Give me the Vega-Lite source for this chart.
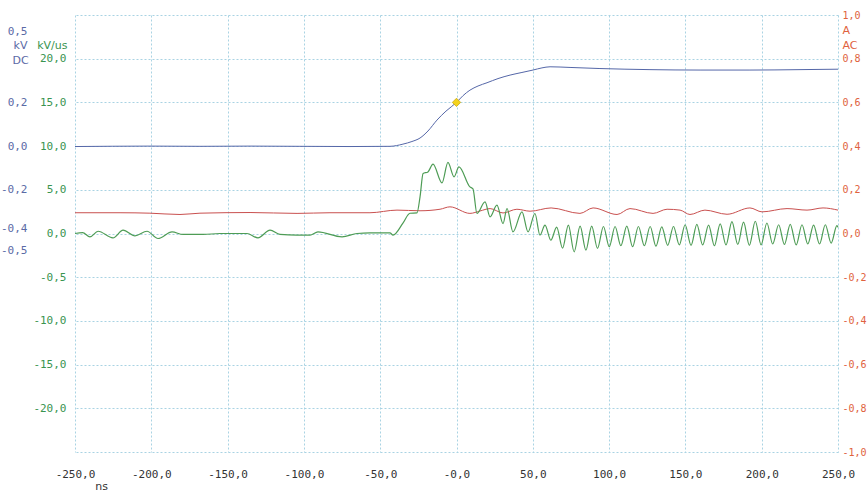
{
  "$schema": "https://vega.github.io/schema/vega-lite/v6.json",
  "width": 763,
  "height": 437,
  "autosize": "none",
  "padding": {"left": 75, "top": 15, "right": 29, "bottom": 43},
  "background": "white",
  "config": {
    "view": {"stroke": null},
    "axis": {
      "labelFont": "DejaVu Sans Mono",
      "labelFontSize": 11,
      "titleFont": "DejaVu Sans",
      "titleFontSize": 11,
      "titleFontWeight": "normal",
      "domain": false,
      "ticks": false,
      "grid": false,
      "labelFlush": false,
      "labelOverlap": false,
      "labelBound": false,
      "gridColor": "#a9d3e3",
      "gridDash": [2, 2],
      "gridWidth": 1
    }
  },
  "datasets": {
    "blue": [
      {"t": -250, "v": -0.002}, {"t": -200.9, "v": 0}, {"t": -168.1, "v": -0.001}, {"t": -135.3, "v": 0},
      {"t": -102.6, "v": -0.001}, {"t": -69.8, "v": -0.002}, {"t": -43.6, "v": -0.001}, {"t": -35.1, "v": 0.009},
      {"t": -29.2, "v": 0.021}, {"t": -23.9, "v": 0.037}, {"t": -18.7, "v": 0.069}, {"t": -12.8, "v": 0.119},
      {"t": -6.9, "v": 0.16}, {"t": 0, "v": 0.2}, {"t": 4.3, "v": 0.231}, {"t": 8.8, "v": 0.256},
      {"t": 14.1, "v": 0.275}, {"t": 20, "v": 0.29}, {"t": 27.2, "v": 0.309}, {"t": 35.1, "v": 0.325},
      {"t": 42.9, "v": 0.337}, {"t": 50.1, "v": 0.348}, {"t": 56, "v": 0.358}, {"t": 61.3, "v": 0.363},
      {"t": 74.4, "v": 0.36}, {"t": 94, "v": 0.355}, {"t": 126.8, "v": 0.35}, {"t": 159.6, "v": 0.348},
      {"t": 192.3, "v": 0.348}, {"t": 225.1, "v": 0.35}, {"t": 250, "v": 0.352}
    ],
    "marker": [{"t": 0, "v": 0.2}],
    "green": [
      {"t": -250, "v": 0.0}, {"t": -245, "v": 0.1}, {"t": -240.2, "v": -0.39}, {"t": -234.9, "v": 0.26},
      {"t": -225.1, "v": -0.5}, {"t": -218.5, "v": 0.38}, {"t": -210.7, "v": -0.27}, {"t": -202.8, "v": 0.26},
      {"t": -195.6, "v": -0.57}, {"t": -186.4, "v": 0.18}, {"t": -179.2, "v": -0.11}, {"t": -166.1, "v": -0.11},
      {"t": -155, "v": 0.0}, {"t": -137.3, "v": 0.0}, {"t": -130.1, "v": -0.5}, {"t": -122.2, "v": 0.38},
      {"t": -115.7, "v": -0.11}, {"t": -104.5, "v": -0.19}, {"t": -96, "v": -0.19}, {"t": -90.8, "v": 0.18},
      {"t": -75, "v": -0.39}, {"t": -65.2, "v": 0.0}, {"t": -56.7, "v": 0.07}, {"t": -43.6, "v": 0.07},
      {"t": -41.6, "v": -0.19}, {"t": -35.1, "v": 1.18}, {"t": -30.5, "v": 2.32}, {"t": -25.9, "v": 2.36},
      {"t": -23.9, "v": 4.19}, {"t": -21.9, "v": 6.86}, {"t": -18.7, "v": 7.05}, {"t": -15.4, "v": 7.93},
      {"t": -9.5, "v": 5.79}, {"t": -5.6, "v": 8.13}, {"t": -1.6, "v": 6.48}, {"t": 1.6, "v": 7.62},
      {"t": 8.8, "v": 5.33}, {"t": 10.8, "v": 5.1}, {"t": 13.4, "v": 2.29}, {"t": 18.7, "v": 3.62},
      {"t": 22.0, "v": 1.9}, {"t": 26.5, "v": 3.24}, {"t": 30.5, "v": 1.14}, {"t": 33.1, "v": 2.86},
      {"t": 37.0, "v": 0.18}, {"t": 42.9, "v": 2.47}, {"t": 46.9, "v": 0.18}, {"t": 51.4, "v": 2.29},
      {"t": 54.7, "v": -0.19},
      {"t": 58.0, "v": 0.95}, {"t": 61.8, "v": -0.77}, {"t": 65.65, "v": 0.72}, {"t": 69.5, "v": -1.68},
      {"t": 73.3, "v": 0.95}, {"t": 77.1, "v": -2.1}, {"t": 81.0, "v": 0.84}, {"t": 84.8, "v": -1.9},
      {"t": 88.6, "v": 0.84}, {"t": 92.4, "v": -1.7}, {"t": 96.3, "v": 0.8}, {"t": 100.1, "v": -1.5},
      {"t": 103.9, "v": 0.8}, {"t": 107.7, "v": -1.4}, {"t": 111.6, "v": 0.85}, {"t": 115.4, "v": -1.5},
      {"t": 119.2, "v": 0.8}, {"t": 123.1, "v": -1.4}, {"t": 126.9, "v": 0.8}, {"t": 130.7, "v": -1.45},
      {"t": 134.5, "v": 0.75}, {"t": 138.4, "v": -1.35}, {"t": 142.2, "v": 0.8}, {"t": 146.0, "v": -1.3},
      {"t": 149.8, "v": 1.0}, {"t": 153.7, "v": -1.35}, {"t": 157.5, "v": 1.05}, {"t": 161.3, "v": -1.3},
      {"t": 165.2, "v": 0.95}, {"t": 169.0, "v": -1.4}, {"t": 172.8, "v": 1.1}, {"t": 176.6, "v": -1.3},
      {"t": 180.5, "v": 1.35}, {"t": 184.3, "v": -1.25}, {"t": 188.1, "v": 1.3}, {"t": 191.9, "v": -1.35},
      {"t": 195.8, "v": 1.4}, {"t": 199.6, "v": -1.3}, {"t": 203.4, "v": 1.2}, {"t": 207.2, "v": -1.2},
      {"t": 211.1, "v": 1.0}, {"t": 214.9, "v": -1.25}, {"t": 218.7, "v": 1.05}, {"t": 222.6, "v": -1.3},
      {"t": 226.4, "v": 1.0}, {"t": 230.2, "v": -1.2}, {"t": 234.0, "v": 0.95}, {"t": 237.9, "v": -1.2},
      {"t": 241.7, "v": 1.0}, {"t": 245.5, "v": -1.1}, {"t": 249.3, "v": 0.9}, {"t": 250, "v": 0.7}
    ],
    "red": [
      {"t": -250, "v": 0.095}, {"t": -220.5, "v": 0.095}, {"t": -200.9, "v": 0.093}, {"t": -181.2, "v": 0.087},
      {"t": -168.1, "v": 0.093}, {"t": -135.3, "v": 0.096}, {"t": -104.5, "v": 0.092}, {"t": -82.9, "v": 0.095},
      {"t": -56.7, "v": 0.095}, {"t": -39, "v": 0.107}, {"t": -23.9, "v": 0.104}, {"t": -10.8, "v": 0.111},
      {"t": -4.3, "v": 0.122}, {"t": 8.8, "v": 0.092}, {"t": 15.4, "v": 0.103}, {"t": 22, "v": 0.114},
      {"t": 30.5, "v": 0.094}, {"t": 39.6, "v": 0.111}, {"t": 48.2, "v": 0.102}, {"t": 62, "v": 0.117},
      {"t": 80.9, "v": 0.092}, {"t": 89.5, "v": 0.117}, {"t": 105.2, "v": 0.087}, {"t": 113.7, "v": 0.114},
      {"t": 128.8, "v": 0.092}, {"t": 138, "v": 0.111}, {"t": 146.5, "v": 0.107}, {"t": 153, "v": 0.087},
      {"t": 162.8, "v": 0.107}, {"t": 177.3, "v": 0.088}, {"t": 192.3, "v": 0.117}, {"t": 200.2, "v": 0.099},
      {"t": 216.6, "v": 0.114}, {"t": 229.7, "v": 0.107}, {"t": 240.2, "v": 0.117}, {"t": 250, "v": 0.107}
    ]
  },
  "encoding": {
    "x": {
      "field": "t",
      "type": "quantitative",
      "scale": {"domain": [-250, 250], "nice": false, "zero": false},
      "axis": {
        "values": [-250, -200, -150, -100, -50, 0, 50, 100, 150, 200, 250],
        "grid": true,
        "labelColor": "#333333",
        "labelPadding": 16,
        "labelExpr": "datum.value == 0 ? '-0,0' : (datum.value < 0 ? '-' : '') + replace(format(abs(datum.value), '.1f'), '.', ',')",
        "title": "ns",
        "titleColor": "#333333",
        "titleAlign": "center",
        "titleAnchor": null,
        "titleBaseline": "alphabetic",
        "titleX": 26,
        "titleY": 37
      }
    }
  },
  "layer": [
    {
      "data": {"name": "red"},
      "mark": {"type": "line", "color": "#c9504f", "strokeWidth": 1, "interpolate": "monotone"},
      "encoding": {
        "y": {
          "field": "v", "type": "quantitative",
          "scale": {"domain": [-1, 1], "nice": false, "zero": false},
          "axis": {
            "orient": "right",
            "values": [-1, -0.8, -0.6, -0.4, -0.2, 0, 0.2, 0.4, 0.6, 0.8, 1],
            "grid": true,
            "labelColor": "#e0623e",
            "labelFontSize": 10,
            "labelPadding": 4,
            "labelExpr": "(datum.value < -0.0001 ? '-' : '') + replace(format(abs(datum.value), '.1f'), '.', ',')",
            "title": ["A", "AC"],
            "titleColor": "#e0623e",
            "titleAngle": 0,
            "titleAlign": "left",
            "titleAnchor": null,
            "titleBaseline": "alphabetic",
            "titleLineHeight": 15,
            "titleX": 4,
            "titleY": 18
          }
        }
      }
    },
    {
      "data": {"name": "green"},
      "mark": {"type": "line", "color": "#4e9c55", "strokeWidth": 1.2, "interpolate": "monotone"},
      "encoding": {
        "y": {
          "field": "v", "type": "quantitative",
          "scale": {"domain": [-25, 25], "nice": false, "zero": false},
          "axis": {
            "orient": "left",
            "values": [-20, -15, -10, -5, 0, 5, 10, 15, 20],
            "labelColor": "#3a9450",
            "labelPadding": 9,
            "labelExpr": "datum.value == -5 ? '-0,5' : (datum.value < 0 ? '-' : '') + replace(format(abs(datum.value), '.1f'), '.', ',')",
            "title": "kV/us",
            "titleColor": "#3a9450",
            "titleAngle": 0,
            "titleAlign": "right",
            "titleAnchor": null,
            "titleBaseline": "alphabetic",
            "titleX": -8,
            "titleY": 33
          }
        }
      }
    },
    {
      "data": {"name": "blue"},
      "mark": {"type": "line", "color": "#5567a8", "strokeWidth": 1, "interpolate": "monotone"},
      "encoding": {
        "y": {
          "field": "v", "type": "quantitative",
          "scale": {"domain": [-1.4, 0.6], "nice": false, "zero": false},
          "axis": {
            "orient": "left",
            "offset": 40,
            "values": [-0.5, -0.4, -0.2, 0, 0.2, 0.5],
            "labelColor": "#5b6aa6",
            "labelPadding": 8,
            "labelOffset": {"condition": {"test": "datum.value > 0.4 || datum.value < -0.3", "value": -5}, "value": 0},
            "labelExpr": "(datum.value < -0.0001 ? '-' : '') + replace(format(abs(datum.value), '.1f'), '.', ',')",
            "title": ["kV", "DC"],
            "titleColor": "#5b6aa6",
            "titleAngle": 0,
            "titleAlign": "center",
            "titleAnchor": null,
            "titleBaseline": "alphabetic",
            "titleLineHeight": 15,
            "titleX": -15,
            "titleY": 33
          }
        }
      }
    },
    {
      "data": {"name": "marker"},
      "mark": {"type": "point", "shape": "diamond", "filled": true, "color": "#f3d21c", "stroke": "#c9a817", "strokeWidth": 0.8, "size": 70, "opacity": 1},
      "encoding": {
        "y": {
          "field": "v", "type": "quantitative",
          "scale": {"domain": [-1.4, 0.6], "nice": false, "zero": false},
          "axis": null
        }
      }
    }
  ],
  "resolve": {"scale": {"y": "independent"}, "axis": {"y": "independent"}}
}
